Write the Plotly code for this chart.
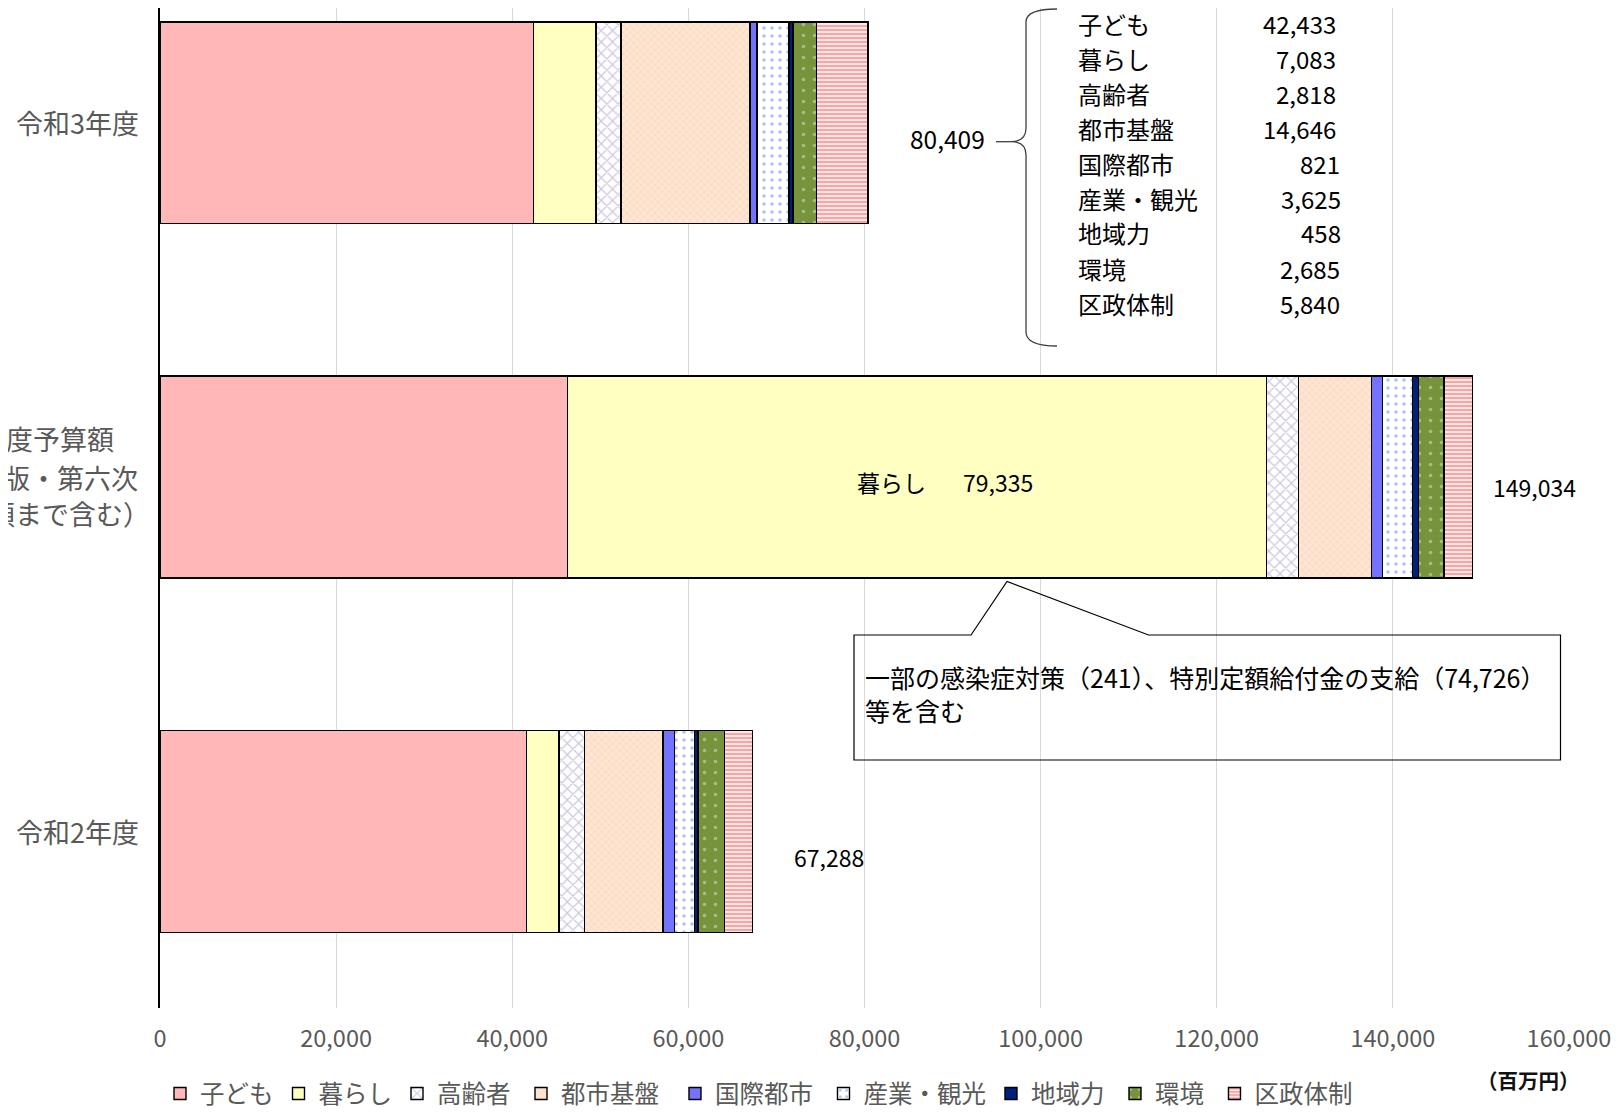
import plotly.graph_objects as go

# ---------------- data ----------------
years = ["令和2年度", "令和2年度予算額", "令和3年度"]          # bottom -> top
series = ["子ども", "暮らし", "高齢者", "都市基盤", "国際都市", "産業・観光", "地域力", "環境", "区政体制"]
r2_values = [41600, 3700, 2883, 8923, 1294, 2270, 400, 3065, 3153]          # 令和2年度 (67,288)
r2_budget_values = [46298, 79335, 3633, 8287, 1249, 3406, 681, 2906, 3239]   # 令和2年度予算額 (149,034)
r3_values = [42433, 7083, 2818, 14646, 821, 3625, 458, 2685, 5840]          # 令和3年度 (80,409)
x_ticks = [0, 20000, 40000, 60000, 80000, 100000, 120000, 140000, 160000]
middle_label_lines = ["令和2年度予算額", "（令和2年度版・第六次", "補正額まで含む）"]
note_lines = ["一部の感染症対策（241）、特別定額給付金の支給（74,726）", "等を含む"]
unit_label = "（百万円）"

# ---------------- styles ----------------
FONT = "Noto Sans CJK JP"
GRAY = "#595959"
styles = [
    dict(color="#FFB7B7"),
    dict(color="#FFFFC2"),
    dict(color="#FFFFFF", pattern=dict(shape="x", fgcolor="#9C8BC0", bgcolor="#FFFFFF", size=8, solidity=0.28)),
    dict(color="#FDDCC4", pattern=dict(shape="x", fgcolor="#F9C8A3", bgcolor="#FEE6D4", size=5, solidity=0.3)),
    dict(color="#7373FF"),
    dict(color="#FFFFFF", pattern=dict(shape=".", fgcolor="#4F86D9", bgcolor="#FFFFFF", size=8, solidity=0.15)),
    dict(color="#00217A"),
    dict(color="#77933C", pattern=dict(shape=".", fgcolor="#DDE8C6", bgcolor="#77933C", size=11, solidity=0.08)),
    dict(color="#FFFFFF", pattern=dict(shape="-", fgcolor="#FF4545", bgcolor="#FFFFFF", size=4, solidity=0.62)),
]
# trailing spacing after legend entries (number of no-break spaces)
legend_pad = [0, 0, 1, 2, 1, 0, 1, 1, 0]

BODY = 8                     # browser default body margin
W, H = 1611, 1105
ML, MR, MT, MB = 152, 50, 0, 105
PW, PH = W - ML - MR, H - MT - MB


def px(x):
    """page pixel x -> paper fraction"""
    return (x - BODY - ML) / PW


def py(y):
    """page pixel y -> paper fraction"""
    return (PH - (y - BODY - MT)) / PH


fig = go.Figure()
for i, name in enumerate(series):
    vals = [r2_values[i], r2_budget_values[i], r3_values[i]]
    st = styles[i]
    marker = dict(color=st["color"], line=dict(color="#000000", width=1.4))
    if "pattern" in st:
        marker["pattern"] = st["pattern"]
    fig.add_trace(go.Bar(
        y=years, x=vals, name=name + "\u00a0" * legend_pad[i], orientation="h", marker=marker,
        width=0.57, hoverinfo="skip",
    ))

annotations = []

# y-axis category labels
for cat in [years[0], years[2]]:
    annotations.append(dict(text=cat, xref="paper", x=0, xanchor="right", xshift=-20.5,
                            yref="y", y=cat, yanchor="middle", showarrow=False,
                            font=dict(family=FONT, size=27, color=GRAY), borderpad=0))
for line, ys, xs in zip(middle_label_lines, [38.5, 0, -36.5], [-44.7, -21.3, -9]):
    annotations.append(dict(text=line, xref="paper", x=0, xanchor="right", xshift=xs,
                            yref="y", y=years[1], yanchor="middle", yshift=ys, showarrow=False,
                            font=dict(family=FONT, size=27, color=GRAY), borderpad=0))

# totals
tot_r2 = sum(r2_values)
tot_b = sum(r2_budget_values)
tot_r3 = sum(r3_values)
annotations.append(dict(text=f"{tot_b:,}", xref="x", x=tot_b, xanchor="left", xshift=20,
                        yref="y", y=years[1], yshift=-9.5, showarrow=False,
                        font=dict(family=FONT, size=23, color="#000000"), borderpad=0))
annotations.append(dict(text=f"{tot_r2:,}", xref="x", x=tot_r2, xanchor="left", xshift=40,
                        yref="y", y=years[0], yshift=-26, showarrow=False,
                        font=dict(family=FONT, size=23, color="#000000"), borderpad=0))

# 暮らし label inside the middle bar
kurashi_mid = r2_budget_values[0] + r2_budget_values[1] / 2
annotations.append(dict(text=series[1], xref="x", x=kurashi_mid, xanchor="left", xshift=-61,
                        yref="y", y=years[1], yshift=-4.5, showarrow=False,
                        font=dict(family=FONT, size=23, color="#000000"), borderpad=0))
annotations.append(dict(text=f"{r2_budget_values[1]:,}", xref="x", x=kurashi_mid, xanchor="left", xshift=45,
                        yref="y", y=years[1], yshift=-4.5, showarrow=False,
                        font=dict(family=FONT, size=23, color="#000000"), borderpad=0))

# breakdown list for 令和3年度
annotations.append(dict(text=f"{tot_r3:,}", xref="paper", x=px(986), xanchor="right",
                        yref="paper", y=py(138), yanchor="middle", showarrow=False,
                        font=dict(family=FONT, size=24.5, color="#000000"), borderpad=0))
row_y = [23, 58.5, 93.5, 128.5, 163.5, 198.5, 233, 268, 303.5]
val_right = [1337, 1337, 1337, 1337, 1341, 1342, 1342, 1341, 1341]
for name, v, yy, vr in zip(series, r3_values, row_y, val_right):
    annotations.append(dict(text=name, xref="paper", x=px(1077), xanchor="left",
                            yref="paper", y=py(yy), yanchor="middle", showarrow=False,
                            font=dict(family=FONT, size=24, color="#000000"), borderpad=0))
    annotations.append(dict(text=f"{v:,}", xref="paper", x=px(vr), xanchor="right",
                            yref="paper", y=py(yy), yanchor="middle", showarrow=False,
                            font=dict(family=FONT, size=24, color="#000000"), borderpad=0))

# callout note
for line, yy in zip(note_lines, [677, 710]):
    annotations.append(dict(text=line, xref="paper", x=px(864), xanchor="left",
                            yref="paper", y=py(yy), yanchor="middle", showarrow=False,
                            font=dict(family=FONT, size=25, color="#000000"), borderpad=0))

# unit label
annotations.append(dict(text=unit_label, xref="paper", x=px(1581), xanchor="right",
                        yref="paper", y=py(1080), yanchor="middle", showarrow=False,
                        font=dict(family=FONT, size=20.5, color="#111111", weight="bold"), borderpad=0))


def path(cmds):
    out = []
    for c in cmds:
        if isinstance(c, str):
            out.append(c)
        else:
            out.append(f"{px(c[0]):.5f},{py(c[1]):.5f}")
    return " ".join(out)


shapes = []
# curly brace
brace = path(["M", (1057, 9), "Q", (1026, 9), (1026, 22), "L", (1026, 128),
              "Q", (1026, 141.7), (1011, 141.7), "Q", (1026, 141.7), (1026, 155),
              "L", (1026, 332), "Q", (1026, 346), (1057, 346)])
shapes.append(dict(type="path", path=brace, xref="paper", yref="paper",
                   line=dict(color="#404040", width=1.3)))
shapes.append(dict(type="path", path=path(["M", (996, 141.7), "L", (1011, 141.7)]),
                   xref="paper", yref="paper", line=dict(color="#404040", width=1.3)))
# callout box with wedge
callout = path(["M", (854, 635), "L", (971, 635), "L", (1007, 581.5), "L", (1148.5, 635),
                "L", (1560.5, 635), "L", (1560.5, 760), "L", (854, 760), "Z"])
shapes.append(dict(type="path", path=callout, xref="paper", yref="paper",
                   line=dict(color="#000000", width=1.2), fillcolor="rgba(0,0,0,0)"))

fig.update_layout(
    barmode="stack",
    width=W, height=H,
    margin=dict(l=ML, r=MR, t=MT, b=MB, pad=0, autoexpand=False),
    paper_bgcolor="#FFFFFF", plot_bgcolor="#FFFFFF",
    font=dict(family=FONT, color=GRAY),
    showlegend=True,
    legend=dict(orientation="h", x=px(160), xanchor="left", y=py(1093.5), yanchor="middle",
                font=dict(family=FONT, size=24.5, color=GRAY), traceorder="normal",
                bgcolor="rgba(0,0,0,0)", itemwidth=30),
    annotations=annotations,
    shapes=shapes,
)
fig.update_xaxes(range=[0, 160000], tickvals=x_ticks, tickformat=",", showgrid=True,
                 gridcolor="#D9D9D9", gridwidth=1.3, zeroline=False, showline=False, ticks="",
                 ticklabelstandoff=14,
                 tickfont=dict(family=FONT, size=23.5, color=GRAY), fixedrange=True)
fig.update_yaxes(type="category", categoryorder="array", categoryarray=years,
                 range=[-(PH - (831.3 - BODY)) / 354.25, 2 + (122.8 - BODY) / 354.25],
                 showticklabels=False, showgrid=False, zeroline=False,
                 showline=True, linecolor="#000000", linewidth=1.5, ticks="", fixedrange=True)

fig.write_html("out.html")
